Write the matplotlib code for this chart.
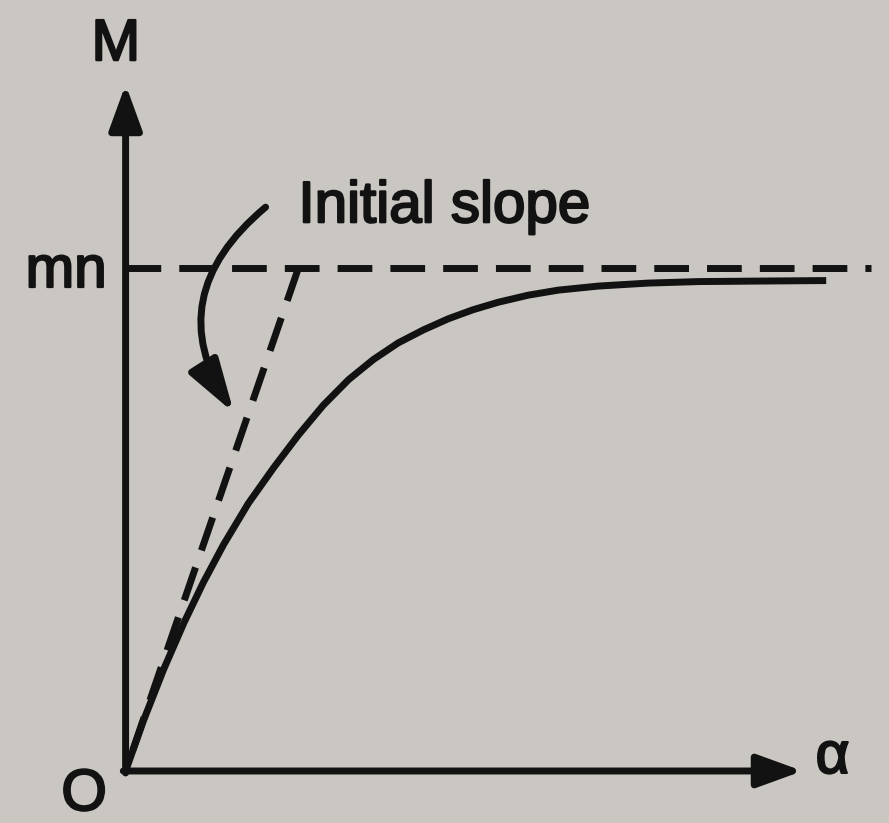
import matplotlib.pyplot as plt
import matplotlib.patheffects as pe

# magnetisation curve M(alpha), M in units of the saturation value mn
alpha = [0, 0.31, 0.66, 1.01, 1.35, 1.70, 2.13, 2.57, 3.00, 3.43, 3.87,
         4.30, 4.73, 5.17, 5.60, 6.03, 6.47, 6.99, 7.51, 8.20, 9.07,
         9.94, 10.98, 12.16]
M = [0, 0.100, 0.202, 0.294, 0.375, 0.450, 0.532, 0.603, 0.668, 0.727,
     0.778, 0.818, 0.851, 0.877, 0.899, 0.917, 0.932, 0.946, 0.956,
     0.964, 0.970, 0.973, 0.974, 0.975]

# initial slope: tangent at the origin reaches mn at alpha = 3
tangent_alpha = [3, 0]
tangent_M = [1, 0]

# saturation level
sat_alpha = [0, 12.94]
sat_M = [1, 1]

ink = '#121212'
paper = '#cac7c2'

plt.rcParams['font.family'] = ['Liberation Sans', 'DejaVu Sans']

fig = plt.figure(figsize=(8.89, 8.23), dpi=100, facecolor=paper)
ax = fig.add_axes([0, 0, 1, 1])
ax.set_facecolor(paper)
ax.set_xlim(-2.18, 13.25)
ax.set_ylim(-0.1034, 1.5328)
ax.axis('off')

lw = 5
dash = (0, (5.0, 2.6))

# axes with arrow heads
arrow = dict(arrowstyle='-|>,head_length=0.55,head_width=0.2', color=ink,
             lw=lw, mutation_scale=50, shrinkA=0, shrinkB=0)
ax.annotate('', xy=(0, 1.365), xytext=(0, -0.004), arrowprops=arrow)
ax.annotate('', xy=(11.75, 0), xytext=(-0.04, 0), arrowprops=arrow)

ax.plot(sat_alpha, sat_M, color=ink, lw=lw, linestyle=dash,
        dash_capstyle='butt')
ax.plot(tangent_alpha, tangent_M, color=ink, lw=lw, linestyle=dash,
        dash_capstyle='butt')
ax.plot(alpha, M, color=ink, lw=lw, solid_capstyle='butt',
        solid_joinstyle='round')

# text labels
fx = [pe.withStroke(linewidth=1.6, foreground=ink)]
tkw = dict(color=ink, fontsize=42, path_effects=fx)
ax.text(-0.17, 1.443, 'M', ha='center', va='center', **tkw)
ax.text(-0.33, 0.992, 'mn', ha='right', va='center', **tkw)
ax.text(-0.72, -0.048, 'O', ha='center', va='center', **tkw)
ax.text(12.27, 0.026, 'α', ha='center', va='center', **tkw)
ax.text(3.0, 1.091, 'Initial slope', ha='left', va='baseline', **tkw)

# curved pointer from the label to the tangent line
ax.annotate('', xy=(1.88, 0.712), xytext=(2.43, 1.121),
            arrowprops=dict(arrowstyle='-|>,head_length=0.65,head_width=0.2',
                            color=ink, lw=lw, mutation_scale=50,
                            shrinkA=0, shrinkB=0,
                            connectionstyle='arc3,rad=0.44'))

plt.savefig('out.png', dpi=100, facecolor=paper)
